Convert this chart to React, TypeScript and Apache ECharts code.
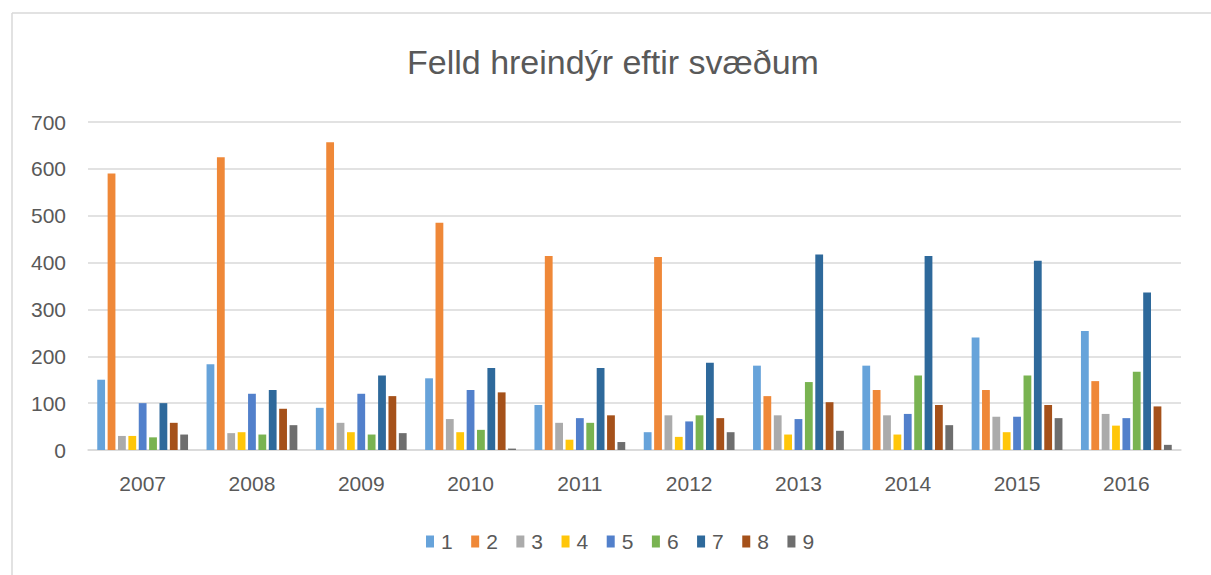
import React, { useEffect, useRef } from "react";
import * as echarts from "echarts";

const title = "Felld hreindýr eftir svæðum";
const years = ["2007", "2008", "2009", "2010", "2011", "2012", "2013", "2014", "2015", "2016"];
const seriesNames = ["1", "2", "3", "4", "5", "6", "7", "8", "9"];
const colors = ["#67A3DA", "#EF8838", "#ABABAB", "#FFC60A", "#5280CB", "#79B351", "#2E699B", "#A5511A", "#6E6E6E"];

const s1 = [150, 183, 90, 153, 96, 38, 180, 180, 240, 254];
const s2 = [590, 625, 657, 485, 414, 412, 115, 128, 128, 147];
const s3 = [30, 36, 58, 66, 58, 74, 74, 74, 71, 77];
const s4 = [30, 38, 38, 38, 22, 28, 33, 33, 38, 52];
const s5 = [100, 120, 120, 128, 68, 61, 66, 77, 71, 68];
const s6 = [27, 33, 33, 43, 58, 74, 145, 159, 159, 167];
const s7 = [100, 128, 159, 175, 175, 186, 417, 414, 404, 336];
const s8 = [58, 88, 115, 123, 74, 68, 102, 96, 96, 93];
const s9 = [33, 53, 36, 3, 17, 38, 41, 53, 68, 11];
const seriesData = [s1, s2, s3, s4, s5, s6, s7, s8, s9];

const yMin = 0;
const yMax = 700;
const yInterval = 100;

const FONT = "Liberation Sans";
const TEXT = "#595959";
const GRID = "#D9D9D9";

export default function App() {
  const ref = useRef<HTMLDivElement>(null);
  useEffect(() => {
    if (!ref.current) return;
    const chart = echarts.init(ref.current, undefined, { renderer: "svg" });
    chart.setOption({
      animation: false,
      backgroundColor: "#ffffff",
      textStyle: { fontFamily: FONT },
      title: {
        text: title,
        left: 402,
        top: 40,
        textStyle: { fontFamily: FONT, fontSize: 34, fontWeight: "normal", color: TEXT },
      },
      graphic: [
        { type: "line", shape: { x1: 12, y1: 13, x2: 1211, y2: 13 }, style: { stroke: GRID, lineWidth: 1.5 } },
        { type: "line", shape: { x1: 12, y1: 13, x2: 12, y2: 575 }, style: { stroke: GRID, lineWidth: 1.5 } },
      ],
      legend: {
        data: seriesNames,
        bottom: 18,
        left: 421,
        icon: "rect",
        itemWidth: 8,
        itemHeight: 12,
        itemGap: 18.5,
        textStyle: { fontFamily: FONT, fontSize: 21, color: TEXT, padding: [0, 0, 0, 2] },
      },
      grid: { left: 88, right: 30, top: 122, bottom: 125, containLabel: false },
      xAxis: {
        type: "category",
        data: years,
        axisLine: { show: true, lineStyle: { color: GRID, width: 1.5 } },
        axisTick: { show: false },
        axisLabel: { fontFamily: FONT, fontSize: 21, color: TEXT, margin: 23 },
      },
      yAxis: {
        type: "value",
        min: yMin,
        max: yMax,
        interval: yInterval,
        axisLine: { show: false },
        axisTick: { show: false },
        axisLabel: { fontFamily: FONT, fontSize: 21, color: TEXT, margin: 22 },
        splitLine: { lineStyle: { color: GRID, width: 1.5 } },
      },
      series: seriesNames.map((name, i) => ({
        name,
        type: "bar",
        data: seriesData[i],
        barWidth: 7.8,
        barGap: "33%",
        itemStyle: { color: colors[i] },
      })),
    });
    return () => chart.dispose();
  }, []);
  return (
    <div
      ref={ref}
      style={{ position: "absolute", left: 0, top: 0, width: 1211, height: 575 }}
    />
  );
}
